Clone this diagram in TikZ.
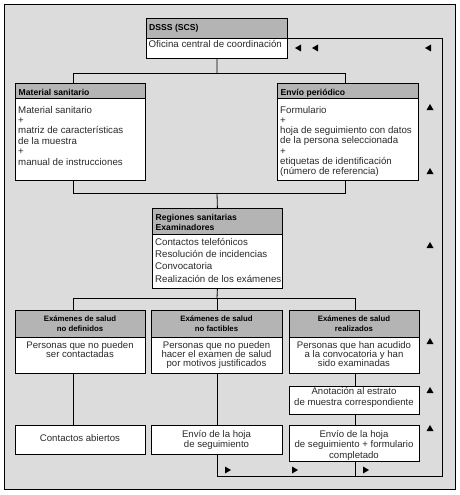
\documentclass[tikz,border=0pt]{standalone}
\usepackage{fontspec}
\setmainfont{Liberation Sans}
\definecolor{bggray}{HTML}{DCDCDC}
\definecolor{hdgray}{HTML}{B4B4B4}
\definecolor{txgray}{HTML}{2A2A2A}
\begin{document}
\begin{tikzpicture}[x=1pt,y=-1pt,
  ln/.style={line width=0.8pt, draw=black},
  bx/.style={ln, fill=white, inner sep=0pt, anchor=north west},
  hd/.style={bx, fill=hdgray},
  tl/.style={inner sep=0pt, anchor=base west, align=left, text=txgray, font=\fontsize{9.7}{10.4}\selectfont},
  tc/.style={inner sep=0pt, anchor=base, align=center, text=txgray, font=\fontsize{9.6}{9.2}\selectfont},
  hl/.style={inner sep=0pt, anchor=base west, align=left, font=\bfseries\fontsize{8.6}{11}\selectfont},
  hc/.style={inner sep=0pt, anchor=base, align=center, font=\bfseries\fontsize{7.8}{10}\selectfont},
  arr/.style={fill=black}]
\useasboundingbox (0,0) rectangle (459,495);
% outer frame
\node[ln, fill=bggray, anchor=north west, inner sep=0pt, minimum width=451, minimum height=485] (frame) at (4,4) {};

% DSSS
\node[hd, minimum width=141, minimum height=20] (dssh) at (146,18) {};
\node[bx, minimum width=141, minimum height=20] (dssb) at (146,38) {};
\node[hl] (dsst) at (149,31) {DSSS (SCS)};
\node[tl] (dssx) at (148.5,48) {Oficina central de coordinación};

% Material sanitario (base = last line)
\node[hd, minimum width=130, minimum height=15] (math) at (15,83) {};
\node[bx, minimum width=130, minimum height=82] (matb) at (15,98) {};
\node[hl] (matt) at (18.5,95) {Material sanitario};
\node[tl] (matx) at (18,165) {Material sanitario\\+\\matriz de características\\de la muestra\\+\\manual de instrucciones};

% Envio periodico
\node[hd, minimum width=141, minimum height=15] (envh) at (277,83) {};
\node[bx, minimum width=141, minimum height=82] (envb) at (277,98) {};
\node[hl] (envt) at (280.5,95) {Envío periódico};
\node[tl, font=\fontsize{9.7}{10.3}\selectfont] (envx) at (280,174.8) {Formulario\\+\\hoja de seguimiento con datos\\de la persona seleccionada\\+\\etiquetas de identificación\\(número de referencia)};

% Regiones
\node[hd, minimum width=130, minimum height=26] (regh) at (152,208) {};
\node[bx, minimum width=130, minimum height=54] (regb) at (152,234) {};
\node[hl, font=\bfseries\fontsize{8.6}{10.8}\selectfont] (regt) at (155.5,230.8) {Regiones sanitarias\\Examinadores};
\node[tl, font=\fontsize{9.7}{12.1}\selectfont] (regx) at (155,282) {Contactos telefónicos\\Resolución de incidencias\\Convocatoria\\Realización de los exámenes};

% Row: A
\node[hd, minimum width=130, minimum height=27] (ah) at (15,310) {};
\node[bx, minimum width=130, minimum height=36] (ab) at (15,337) {};
\node[hc] (at) at (80,331.5) {Exámenes de salud\\no definidos};
\node[tc] (ax) at (80,357.5) {Personas que no pueden\\ser contactadas};
% Row: B
\node[hd, minimum width=131, minimum height=27] (bh) at (151,310) {};
\node[bx, minimum width=131, minimum height=36] (bb) at (151,337) {};
\node[hc] (bt) at (216.5,331.5) {Exámenes de salud\\no factibles};
\node[tc] (bx) at (216.5,366.7) {Personas que no pueden\\hacer el examen de salud\\por motivos justificados};
% Row: C
\node[hd, minimum width=130, minimum height=27] (ch) at (289,310) {};
\node[bx, minimum width=130, minimum height=36] (cb) at (289,337) {};
\node[hc] (ct) at (354,331.5) {Exámenes de salud\\realizados};
\node[tc] (cx) at (354,366.7) {Personas que han acudido\\a la convocatoria y han\\sido examinadas};

% Anotacion
\node[bx, minimum width=130, minimum height=28] (anot) at (289,386) {};
\node[tc, font=\fontsize{9.6}{11.2}\selectfont] (anotx) at (354,405.7) {Anotación al estrato\\de muestra correspondiente};

% bottom row
\node[bx, minimum width=130, minimum height=29] (a2) at (15,425) {};
\node[tc] (a2x) at (80,441.5) {Contactos abiertos};
\node[bx, minimum width=131, minimum height=29] (b2) at (151,425) {};
\node[tc, font=\fontsize{9.6}{10.8}\selectfont] (b2x) at (216.5,447.8) {Envío de la hoja\\de seguimiento};
\node[bx, minimum width=130, minimum height=36] (c2) at (289,425) {};
\node[tc, font=\fontsize{9.6}{10.7}\selectfont] (c2x) at (354,458.4) {Envío de la hoja\\de seguimiento + formulario\\completado};

% connectors
\coordinate (j1) at (217,73);
\coordinate (jm) at (73,73);
\coordinate (je) at (345,73);
\draw[ln] (dssb.south) -- (j1);
\draw[ln] (jm) -- (je);
\draw[ln] (jm) -- (jm |- math.north);
\draw[ln] (je) -- (je |- envh.north);

\coordinate (j2) at (217,193);
\coordinate (j2m) at (73,193);
\coordinate (j2e) at (345,193);
\draw[ln] (j2m |- matb.south) -- (j2m) -- (j2e) -- (j2e |- envb.south);
\draw[ln] (j2) -- (regh.north);

\coordinate (j3) at (217,298);
\coordinate (j3a) at (73,298);
\coordinate (j3c) at (355,298);
\draw[ln] (regb.south) -- (j3);
\draw[ln] (j3a) -- (j3c);
\draw[ln] (j3a) -- (j3a |- ah.north);
\draw[ln] (j3) -- (j3 |- bh.north);
\draw[ln] (j3c) -- (j3c |- ch.north);

\draw[ln] (ab.south -| j3a) -- (a2.north -| j3a);
\draw[ln] (bb.south -| j3) -- (b2.north -| j3);
\draw[ln] (cb.south -| j3c) -- (anot.north -| j3c);
\draw[ln] (anot.south -| j3c) -- (c2.north -| j3c);

% return loop
\coordinate (lb) at (217,476);
\coordinate (lr) at (442,476);
\coordinate (lt) at (442,38);
\draw[ln] (b2.south -| lb) -- (lb) -- (lr) -- (lt) -- (dssb.north east);
\draw[ln] (c2.south -| j3c) -- (j3c |- lb);

% arrowheads: left
\foreach \x in {298,315,428}
  \fill[arr] (\x-3,48) -- (\x+3,44.5) -- (\x+3,51.5) -- cycle;
% arrowheads: up
\foreach \y in {107,171,245,341,390,428}
  \fill[arr] (430,\y-3) -- (433.5,\y+3) -- (426.5,\y+3) -- cycle;
% arrowheads: right
\foreach \x in {228,295,366}
  \fill[arr] (\x+3,470) -- (\x-3,466.5) -- (\x-3,473.5) -- cycle;
\end{tikzpicture}
\end{document}
